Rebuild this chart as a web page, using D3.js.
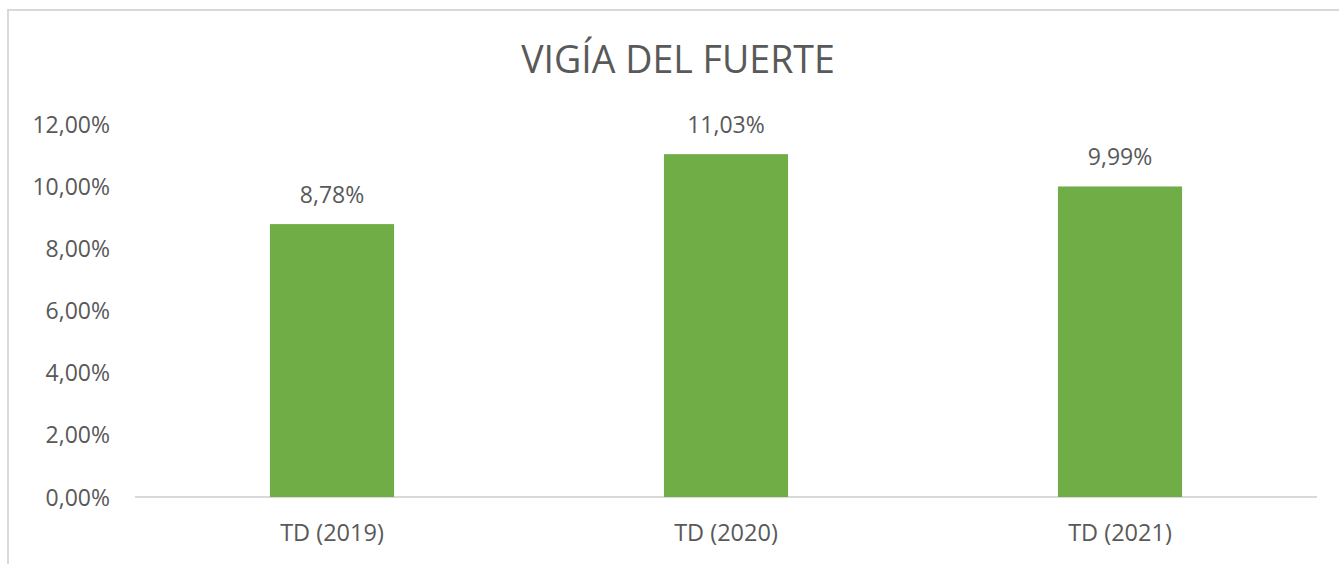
<!DOCTYPE html>
<html>
<head>
<meta charset="utf-8">
<script src="https://cdn.jsdelivr.net/npm/d3@7"></script>
<style>
  html, body { margin: 0; padding: 0; background: #fff; }
  svg { display: block; }
  text { font-family: "Open Sans", sans-serif; fill: #595959; }
</style>
</head>
<body>
<div id="chart"></div>
<script>
var categories = ['TD (2019)', 'TD (2020)', 'TD (2021)'];
var values = [8.78, 11.03, 9.99];
var yTicks = [0, 2, 4, 6, 8, 10, 12];
var title = 'VIGÍA DEL FUERTE';

(function(d3) {
  'use strict';
  var width = 1339;
  var height = 564;
  var margin = { top: 124, right: 22, bottom: 67, left: 135 };
  var fmt = function(v) { return v.toFixed(2).replace('.', ',') + '%'; };

  var svg = d3.select('#chart')
    .append('svg')
    .attr('width', width)
    .attr('height', height);

  // chart frame (only top and left edges are visible in the crop)
  svg.append('path')
    .attr('d', 'M8,' + height + 'V10H' + width)
    .attr('fill', 'none')
    .attr('stroke', '#d9d9d9')
    .attr('stroke-width', 2);

  svg.append('text')
    .attr('x', 678)
    .attr('y', 73)
    .attr('text-anchor', 'middle')
    .style('font-size', '37.5px')
    .text(title);

  var x = d3.scaleBand()
    .domain(categories)
    .range([margin.left, width - margin.right])
    .paddingInner(0.685)
    .paddingOuter(0.3425);

  var y = d3.scaleLinear()
    .domain([0, 12])
    .range([height - margin.bottom, margin.top]);

  var yAxis = svg.append('g')
    .attr('transform', 'translate(' + (margin.left - 25) + ',0)')
    .call(d3.axisLeft(y).tickValues(yTicks).tickSize(0).tickPadding(0).tickFormat(fmt));
  yAxis.select('.domain').remove();
  yAxis.selectAll('text')
    .attr('dy', '0.35em')
    .style('font-size', '23px')
    .style('font-family', '"Open Sans", sans-serif')
    .attr('fill', '#595959');

  svg.append('line')
    .attr('x1', margin.left)
    .attr('x2', width - margin.right)
    .attr('y1', y(0))
    .attr('y2', y(0))
    .attr('stroke', '#d9d9d9')
    .attr('stroke-width', 2);

  svg.selectAll('.bar')
    .data(values)
    .enter()
    .append('rect')
    .attr('class', 'bar')
    .attr('x', function(d, i) { return x(categories[i]); })
    .attr('width', x.bandwidth())
    .attr('y', function(d) { return y(d); })
    .attr('height', function(d) { return y(0) - y(d); })
    .attr('fill', '#70ad47');

  svg.selectAll('.val')
    .data(values)
    .enter()
    .append('text')
    .attr('class', 'val')
    .attr('x', function(d, i) { return x(categories[i]) + x.bandwidth() / 2; })
    .attr('y', function(d) { return y(d) - 21; })
    .attr('text-anchor', 'middle')
    .style('font-size', '23px')
    .text(fmt);

  var xAxis = svg.append('g')
    .attr('transform', 'translate(0,' + y(0) + ')')
    .call(d3.axisBottom(x).tickSize(0).tickPadding(0));
  xAxis.select('.domain').remove();
  xAxis.selectAll('text')
    .attr('dy', null)
    .attr('y', 44)
    .style('font-size', '23.5px')
    .style('font-family', '"Open Sans", sans-serif')
    .attr('fill', '#595959');
})(window.d3);
</script>
</body>
</html>
